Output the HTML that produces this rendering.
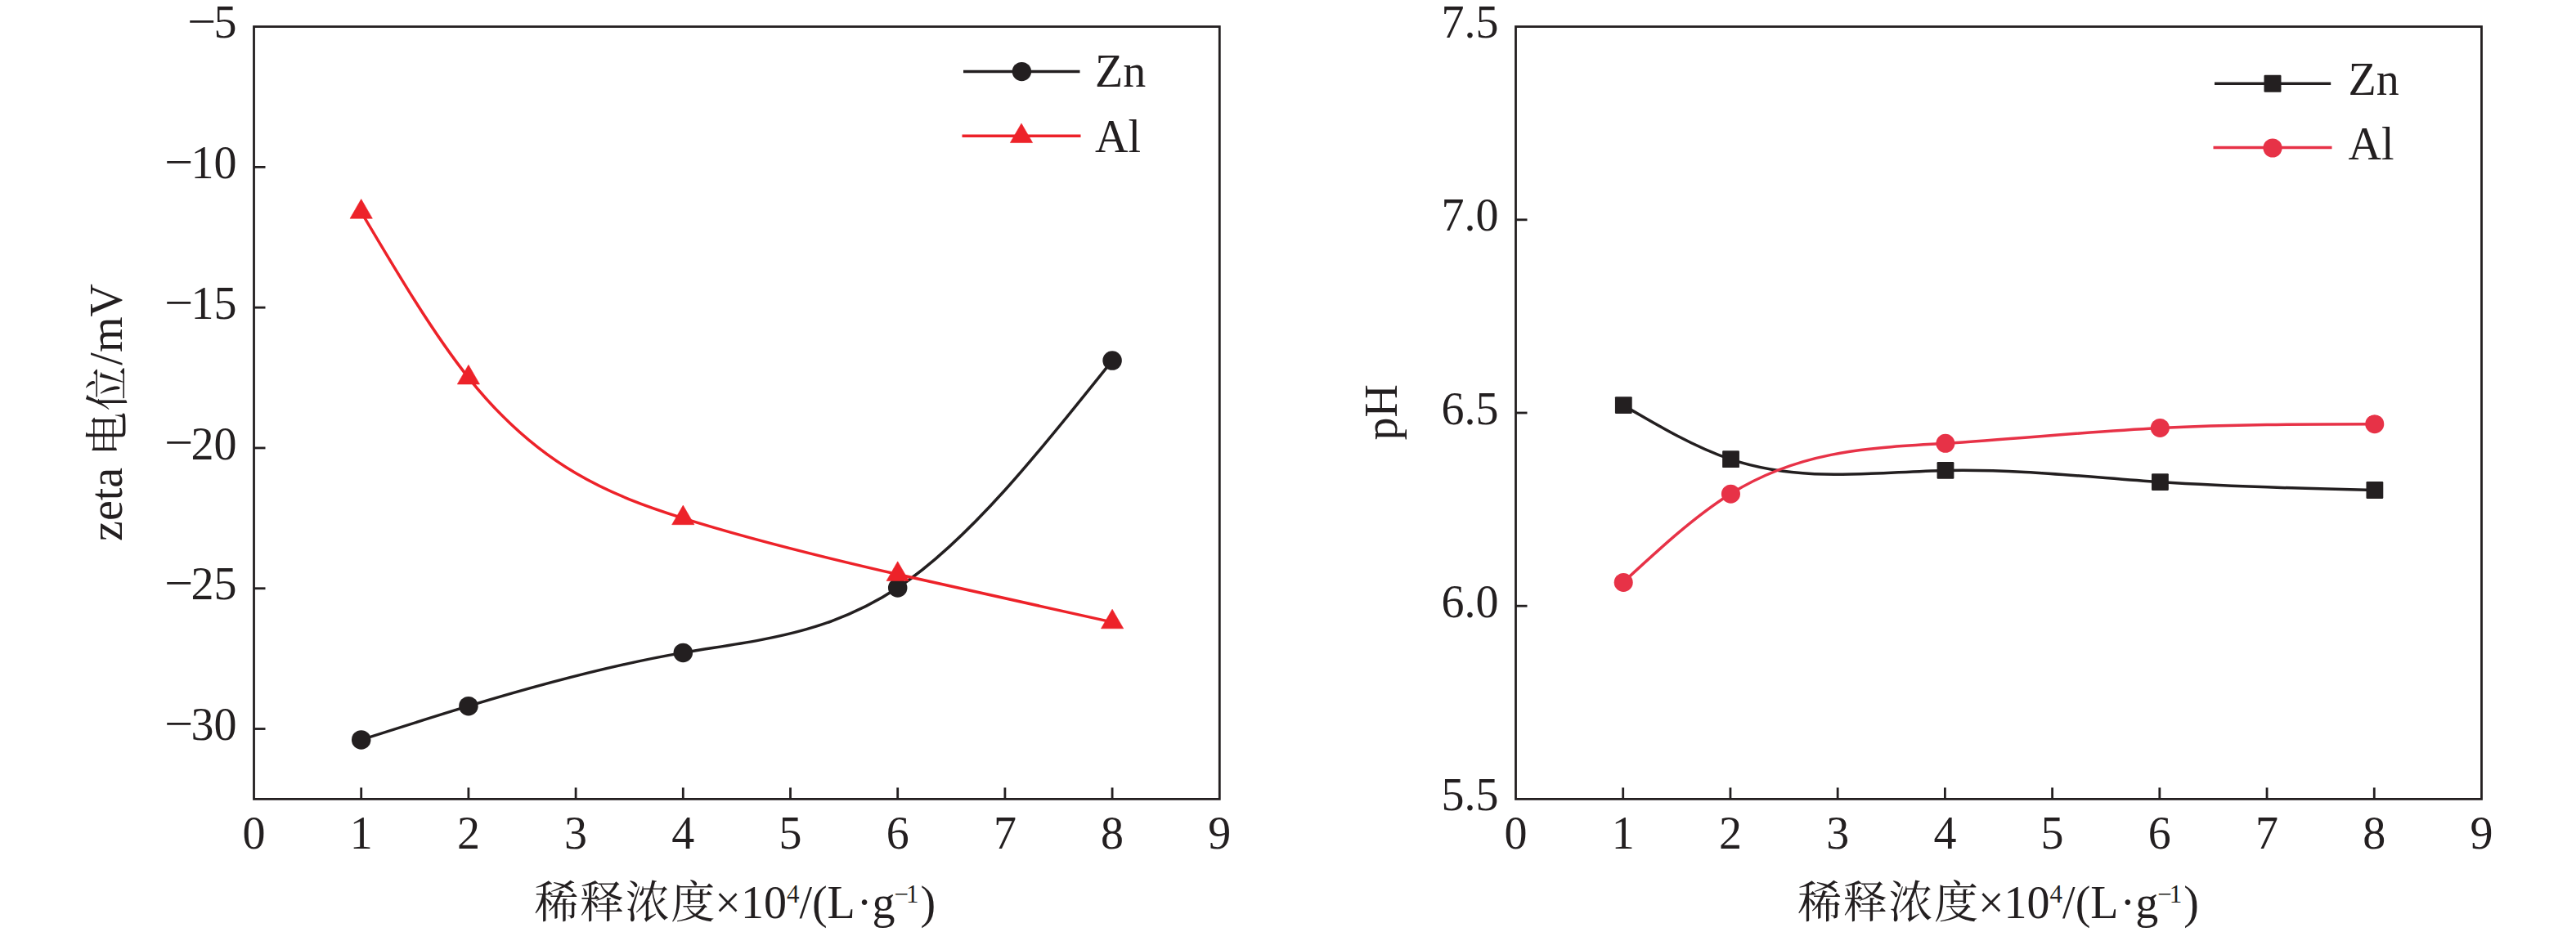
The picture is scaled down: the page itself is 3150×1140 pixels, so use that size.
<!DOCTYPE html>
<html><head><meta charset="utf-8"><title>chart</title>
<style>html,body{margin:0;padding:0;background:#fff;width:3150px;height:1140px;overflow:hidden} svg{display:block}</style>
</head><body>
<svg width="3150" height="1140" viewBox="0 0 3150 1140">
<rect width="3150" height="1140" fill="#fff"/>
<style>.t{font-family:"Liberation Serif","Noto Serif CJK SC",serif;font-size:56px;fill:#231f20}</style>
<rect x="310.5" y="32.6" width="1180.80" height="944.80" fill="none" stroke="#231f20" stroke-width="2.8"/>
<line x1="441.70" y1="977.4" x2="441.70" y2="963.40" stroke="#231f20" stroke-width="2.8"/>
<line x1="572.90" y1="977.4" x2="572.90" y2="963.40" stroke="#231f20" stroke-width="2.8"/>
<line x1="704.10" y1="977.4" x2="704.10" y2="963.40" stroke="#231f20" stroke-width="2.8"/>
<line x1="835.30" y1="977.4" x2="835.30" y2="963.40" stroke="#231f20" stroke-width="2.8"/>
<line x1="966.50" y1="977.4" x2="966.50" y2="963.40" stroke="#231f20" stroke-width="2.8"/>
<line x1="1097.70" y1="977.4" x2="1097.70" y2="963.40" stroke="#231f20" stroke-width="2.8"/>
<line x1="1228.90" y1="977.4" x2="1228.90" y2="963.40" stroke="#231f20" stroke-width="2.8"/>
<line x1="1360.10" y1="977.4" x2="1360.10" y2="963.40" stroke="#231f20" stroke-width="2.8"/>
<line x1="310.5" y1="204.38" x2="324.50" y2="204.38" stroke="#231f20" stroke-width="2.8"/>
<line x1="310.5" y1="376.16" x2="324.50" y2="376.16" stroke="#231f20" stroke-width="2.8"/>
<line x1="310.5" y1="547.95" x2="324.50" y2="547.95" stroke="#231f20" stroke-width="2.8"/>
<line x1="310.5" y1="719.73" x2="324.50" y2="719.73" stroke="#231f20" stroke-width="2.8"/>
<text x="310.50" y="1037.9" text-anchor="middle" class="t">0</text>
<text x="441.70" y="1037.9" text-anchor="middle" class="t">1</text>
<text x="572.90" y="1037.9" text-anchor="middle" class="t">2</text>
<text x="704.10" y="1037.9" text-anchor="middle" class="t">3</text>
<text x="835.30" y="1037.9" text-anchor="middle" class="t">4</text>
<text x="966.50" y="1037.9" text-anchor="middle" class="t">5</text>
<text x="1097.70" y="1037.9" text-anchor="middle" class="t">6</text>
<text x="1228.90" y="1037.9" text-anchor="middle" class="t">7</text>
<text x="1360.10" y="1037.9" text-anchor="middle" class="t">8</text>
<text x="1491.30" y="1037.9" text-anchor="middle" class="t">9</text>
<text x="289.50" y="46.20" text-anchor="end" class="t">5</text>
<text transform="translate(228.90,45.00) scale(1.113,1)" class="t">−</text>
<text x="289.50" y="217.98" text-anchor="end" class="t">10</text>
<text transform="translate(200.90,216.78) scale(1.113,1)" class="t">−</text>
<text x="289.50" y="389.76" text-anchor="end" class="t">15</text>
<text transform="translate(200.90,388.56) scale(1.113,1)" class="t">−</text>
<text x="289.50" y="561.55" text-anchor="end" class="t">20</text>
<text transform="translate(200.90,560.35) scale(1.113,1)" class="t">−</text>
<text x="289.50" y="733.33" text-anchor="end" class="t">25</text>
<text transform="translate(200.90,732.13) scale(1.113,1)" class="t">−</text>
<text x="289.50" y="905.11" text-anchor="end" class="t">30</text>
<text transform="translate(200.90,903.91) scale(1.113,1)" class="t">−</text>
<text transform="translate(149,504.5) rotate(-90)" text-anchor="middle" class="t">zeta <tspan font-size="54" letter-spacing="1.6" dy="1.6">电位</tspan><tspan dy="-1.6">/mV</tspan></text>
<text x="653.50" y="1122.6" class="t"><tspan font-size="54" letter-spacing="1.6">稀释浓度</tspan><tspan dx="-1.6">×10</tspan><tspan font-size="31" dy="-19">4</tspan><tspan dy="19">/(L</tspan><tspan dx="2">·g</tspan><tspan font-size="31" dy="-19" dx="-1">−</tspan><tspan font-size="31" dx="-3">1</tspan><tspan dy="19" dx="2">)</tspan></text>
<rect x="1853.5" y="32.6" width="1181.00" height="944.80" fill="none" stroke="#231f20" stroke-width="2.8"/>
<line x1="1984.72" y1="977.4" x2="1984.72" y2="963.40" stroke="#231f20" stroke-width="2.8"/>
<line x1="2115.94" y1="977.4" x2="2115.94" y2="963.40" stroke="#231f20" stroke-width="2.8"/>
<line x1="2247.17" y1="977.4" x2="2247.17" y2="963.40" stroke="#231f20" stroke-width="2.8"/>
<line x1="2378.39" y1="977.4" x2="2378.39" y2="963.40" stroke="#231f20" stroke-width="2.8"/>
<line x1="2509.61" y1="977.4" x2="2509.61" y2="963.40" stroke="#231f20" stroke-width="2.8"/>
<line x1="2640.83" y1="977.4" x2="2640.83" y2="963.40" stroke="#231f20" stroke-width="2.8"/>
<line x1="2772.06" y1="977.4" x2="2772.06" y2="963.40" stroke="#231f20" stroke-width="2.8"/>
<line x1="2903.28" y1="977.4" x2="2903.28" y2="963.40" stroke="#231f20" stroke-width="2.8"/>
<line x1="1853.5" y1="268.80" x2="1867.50" y2="268.80" stroke="#231f20" stroke-width="2.8"/>
<line x1="1853.5" y1="505.00" x2="1867.50" y2="505.00" stroke="#231f20" stroke-width="2.8"/>
<line x1="1853.5" y1="741.20" x2="1867.50" y2="741.20" stroke="#231f20" stroke-width="2.8"/>
<text x="1853.50" y="1037.9" text-anchor="middle" class="t">0</text>
<text x="1984.72" y="1037.9" text-anchor="middle" class="t">1</text>
<text x="2115.94" y="1037.9" text-anchor="middle" class="t">2</text>
<text x="2247.17" y="1037.9" text-anchor="middle" class="t">3</text>
<text x="2378.39" y="1037.9" text-anchor="middle" class="t">4</text>
<text x="2509.61" y="1037.9" text-anchor="middle" class="t">5</text>
<text x="2640.83" y="1037.9" text-anchor="middle" class="t">6</text>
<text x="2772.06" y="1037.9" text-anchor="middle" class="t">7</text>
<text x="2903.28" y="1037.9" text-anchor="middle" class="t">8</text>
<text x="3034.50" y="1037.9" text-anchor="middle" class="t">9</text>
<text x="1832.50" y="46.20" text-anchor="end" class="t">7.5</text>
<text x="1832.50" y="282.40" text-anchor="end" class="t">7.0</text>
<text x="1832.50" y="518.60" text-anchor="end" class="t">6.5</text>
<text x="1832.50" y="754.80" text-anchor="end" class="t">6.0</text>
<text x="1832.50" y="991.00" text-anchor="end" class="t">5.5</text>
<text transform="translate(1708,504.4) rotate(-90)" text-anchor="middle" class="t">pH</text>
<text x="2198.20" y="1122.6" class="t"><tspan font-size="54" letter-spacing="1.6">稀释浓度</tspan><tspan dx="-1.6">×10</tspan><tspan font-size="31" dy="-19">4</tspan><tspan dy="19">/(L</tspan><tspan dx="2">·g</tspan><tspan font-size="31" dy="-19" dx="-1">−</tspan><tspan font-size="31" dx="-3">1</tspan><tspan dy="19" dx="2">)</tspan></text>
<line x1="310.5" y1="891.51" x2="324.50" y2="891.51" stroke="#231f20" stroke-width="2.8"/>
<path d="M441.70,904.91 C485.43,890.93 529.17,876.95 572.90,863.68 C660.37,837.13 747.83,813.40 835.30,798.40 C922.77,783.40 1010.23,777.14 1097.70,719.04 C1185.17,660.94 1272.63,551.02 1360.10,441.10" fill="none" stroke="#231f20" stroke-width="3.5"/>
<circle cx="441.70" cy="904.91" r="11.75" fill="#231f20"/>
<circle cx="572.90" cy="863.68" r="11.75" fill="#231f20"/>
<circle cx="835.30" cy="798.40" r="11.75" fill="#231f20"/>
<circle cx="1097.70" cy="719.04" r="11.75" fill="#231f20"/>
<circle cx="1360.10" cy="441.10" r="11.75" fill="#231f20"/>
<path d="M441.70,259.35 C485.43,333.23 529.17,407.10 572.90,462.05 C660.37,571.97 747.83,606.21 835.30,633.84 C922.77,661.46 1010.23,682.47 1097.70,702.55 C1185.17,722.63 1272.63,741.79 1360.10,760.95" fill="none" stroke="#ed2229" stroke-width="3.5"/>
<path d="M441.70,243.62 L455.33,267.22 L428.07,267.22 Z" fill="#ed2229" stroke="#ed2229" stroke-width="0.6" stroke-linejoin="round"/>
<path d="M572.90,446.32 L586.53,469.92 L559.27,469.92 Z" fill="#ed2229" stroke="#ed2229" stroke-width="0.6" stroke-linejoin="round"/>
<path d="M835.30,618.10 L848.93,641.70 L821.67,641.70 Z" fill="#ed2229" stroke="#ed2229" stroke-width="0.6" stroke-linejoin="round"/>
<path d="M1097.70,686.82 L1111.33,710.42 L1084.07,710.42 Z" fill="#ed2229" stroke="#ed2229" stroke-width="0.6" stroke-linejoin="round"/>
<path d="M1360.10,745.22 L1373.73,768.82 L1346.47,768.82 Z" fill="#ed2229" stroke="#ed2229" stroke-width="0.6" stroke-linejoin="round"/>
<path d="M1984.72,495.55 C2028.46,521.22 2072.20,546.90 2115.94,561.69 C2203.43,591.27 2290.91,577.32 2378.39,575.39 C2465.87,573.46 2553.35,583.54 2640.83,589.56 C2728.31,595.58 2815.80,597.53 2903.28,599.48" fill="none" stroke="#231f20" stroke-width="3.5"/>
<rect x="1974.92" y="485.15" width="20.8" height="20.8" rx="1.2" fill="#231f20"/>
<rect x="2106.14" y="551.29" width="20.8" height="20.8" rx="1.2" fill="#231f20"/>
<rect x="2368.59" y="564.99" width="20.8" height="20.8" rx="1.2" fill="#231f20"/>
<rect x="2631.03" y="579.16" width="20.8" height="20.8" rx="1.2" fill="#231f20"/>
<rect x="2893.48" y="589.08" width="20.8" height="20.8" rx="1.2" fill="#231f20"/>
<path d="M1984.72,712.38 C2028.46,671.93 2072.20,631.49 2115.94,604.20 C2203.43,549.64 2290.91,547.74 2378.39,542.32 C2465.87,536.90 2553.35,527.95 2640.83,523.42 C2728.31,518.90 2815.80,518.80 2903.28,518.70" fill="none" stroke="#e73247" stroke-width="3.5"/>
<circle cx="1985.22" cy="712.38" r="11.5" fill="#e73247"/>
<circle cx="2116.44" cy="604.20" r="11.5" fill="#e73247"/>
<circle cx="2378.89" cy="542.32" r="11.5" fill="#e73247"/>
<circle cx="2641.33" cy="523.42" r="11.5" fill="#e73247"/>
<circle cx="2903.78" cy="518.70" r="11.5" fill="#e73247"/>
<line x1="1178" y1="87.4" x2="1320.5" y2="87.4" stroke="#231f20" stroke-width="3.5"/>
<circle cx="1249.40" cy="87.60" r="11.7" fill="#231f20"/>
<text x="1339" y="105.5" class="t">Zn</text>
<line x1="1176.5" y1="166.2" x2="1321.5" y2="166.2" stroke="#ed2229" stroke-width="3.5"/>
<path d="M1249.00,150.97 L1262.63,174.57 L1235.37,174.57 Z" fill="#ed2229" stroke="#ed2229" stroke-width="0.6" stroke-linejoin="round"/>
<text x="1339" y="186" class="t">Al</text>
<line x1="2708" y1="102.3" x2="2850.2" y2="102.3" stroke="#231f20" stroke-width="3.5"/>
<rect x="2768.50" y="91.80" width="21" height="21" rx="1.2" fill="#231f20"/>
<text x="2871.5" y="116.3" class="t">Zn</text>
<line x1="2706.5" y1="180.4" x2="2851.5" y2="180.4" stroke="#e73247" stroke-width="3.5"/>
<circle cx="2779.00" cy="181.00" r="11.6" fill="#e73247"/>
<text x="2871.5" y="195.2" class="t">Al</text>
</svg>
</body></html>
